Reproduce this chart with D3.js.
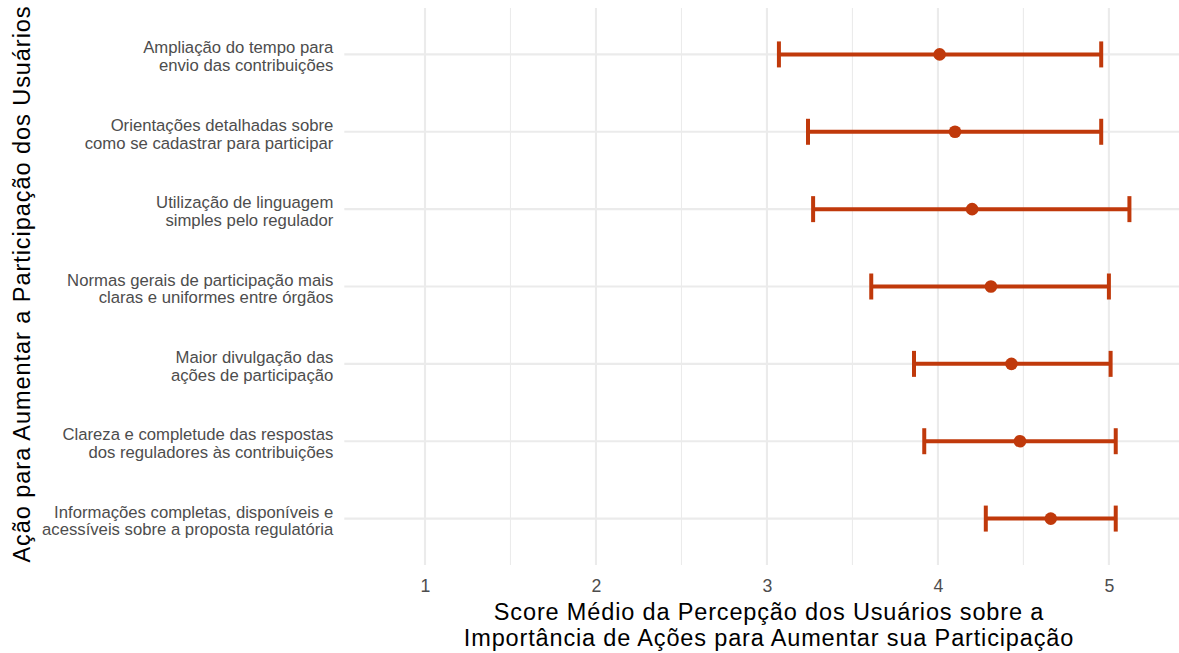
<!DOCTYPE html>
<html>
<head>
<meta charset="utf-8">
<script src="https://cdn.jsdelivr.net/npm/d3@7"></script>
<style>
  html, body { margin: 0; padding: 0; background: #ffffff; }
  svg { display: block; font-family: "Liberation Sans", Arial, sans-serif; }
</style>
</head>
<body>
<svg id="chart" width="1179" height="653"></svg>
<script>
// Actions, listed top to bottom; each label is split over two lines
const actions = [
  ["Ampliação do tempo para", "envio das contribuições"],
  ["Orientações detalhadas sobre", "como se cadastrar para participar"],
  ["Utilização de linguagem", "simples pelo regulador"],
  ["Normas gerais de participação mais", "claras e uniformes entre órgãos"],
  ["Maior divulgação das", "ações de participação"],
  ["Clareza e completude das respostas", "dos reguladores às contribuições"],
  ["Informações completas, disponíveis e", "acessíveis sobre a proposta regulatória"]
];
// Mean score and interval bounds per action
const meanScore = [4.01, 4.10, 4.20, 4.31, 4.43, 4.48, 4.66];
const lowerBound = [3.07, 3.24, 3.27, 3.61, 3.86, 3.92, 4.28];
const upperBound = [4.955, 4.955, 5.12, 5.00, 5.01, 5.04, 5.04];
const xTicks = [1, 2, 3, 4, 5];
const xMinorTicks = [1.5, 2.5, 3.5, 4.5];

const xTitle = ["Score Médio da Percepção dos Usuários sobre a",
                "Importância de Ações para Aumentar sua Participação"];
const yTitle = "Ação para Aumentar a Participação dos Usuários";

const color = "#c0390b";
const gridColor = "#ebebeb";

const svg = d3.select("#chart");
const panel = { left: 344.3, right: 1179, top: 8, bottom: 565 };

const x = d3.scaleLinear().domain([0.528, 5.41]).range([panel.left, panel.right]);
const y = d3.scalePoint()
  .domain(d3.range(actions.length))
  .range([panel.top, panel.bottom])
  .padding(0.6);

const data = actions.map((a, i) => ({
  i, label: a, mean: meanScore[i], lo: lowerBound[i], hi: upperBound[i]
}));

// grid
const grid = svg.append("g");
grid.selectAll("line.minor").data(xMinorTicks).join("line")
  .attr("class", "minor")
  .attr("x1", d => x(d)).attr("x2", d => x(d))
  .attr("y1", panel.top).attr("y2", panel.bottom)
  .attr("stroke", gridColor).attr("stroke-width", 1.1);
grid.selectAll("line.major").data(xTicks).join("line")
  .attr("class", "major")
  .attr("x1", d => x(d)).attr("x2", d => x(d))
  .attr("y1", panel.top).attr("y2", panel.bottom)
  .attr("stroke", gridColor).attr("stroke-width", 2.1);
grid.selectAll("line.row").data(data).join("line")
  .attr("class", "row")
  .attr("x1", panel.left).attr("x2", panel.right)
  .attr("y1", d => y(d.i)).attr("y2", d => y(d.i))
  .attr("stroke", gridColor).attr("stroke-width", 2.1);

// x axis (no domain line, no ticks)
const xAxis = svg.append("g")
  .attr("transform", `translate(0,${panel.bottom})`)
  .call(d3.axisBottom(x).tickValues(xTicks).tickFormat(d3.format("d")).tickSize(0).tickPadding(14));
xAxis.select(".domain").remove();
xAxis.selectAll("text")
  .attr("fill", "#4d4d4d")
  .style("font-size", "17.7px")
  .style("font-family", "'Liberation Sans', Arial, sans-serif");

// y axis labels, two lines each
const yAxis = svg.append("g")
  .attr("transform", `translate(${panel.left},0)`)
  .call(d3.axisLeft(y).tickSize(0).tickPadding(11).tickFormat(""));
yAxis.select(".domain").remove();
yAxis.selectAll(".tick text").each(function(d) {
  const t = d3.select(this)
    .attr("fill", "#4d4d4d")
    .attr("dy", null)
    .style("font-size", "16.7px")
    .style("font-family", "'Liberation Sans', Arial, sans-serif");
  t.selectAll("tspan").data(actions[d]).join("tspan")
    .attr("x", -11)
    .attr("dy", (s, k) => k === 0 ? -1.5 : 17.8)
    .text(s => s);
});

// error bars
const bars = svg.append("g");
const capHalf = 13;
bars.selectAll("line.bar").data(data).join("line")
  .attr("class", "bar")
  .attr("x1", d => x(d.lo)).attr("x2", d => x(d.hi))
  .attr("y1", d => y(d.i)).attr("y2", d => y(d.i))
  .attr("stroke", color).attr("stroke-width", 4);
bars.selectAll("line.capLo").data(data).join("line")
  .attr("class", "capLo")
  .attr("x1", d => x(d.lo)).attr("x2", d => x(d.lo))
  .attr("y1", d => y(d.i) - capHalf).attr("y2", d => y(d.i) + capHalf)
  .attr("stroke", color).attr("stroke-width", 4);
bars.selectAll("line.capHi").data(data).join("line")
  .attr("class", "capHi")
  .attr("x1", d => x(d.hi)).attr("x2", d => x(d.hi))
  .attr("y1", d => y(d.i) - capHalf).attr("y2", d => y(d.i) + capHalf)
  .attr("stroke", color).attr("stroke-width", 4);
bars.selectAll("circle").data(data).join("circle")
  .attr("cx", d => x(d.mean)).attr("cy", d => y(d.i))
  .attr("r", 6.3).attr("fill", color);

// axis titles
const xTitleCenter = 769;
const xt = svg.append("text")
  .attr("x", xTitleCenter)
  .attr("y", 619.5)
  .attr("text-anchor", "middle")
  .attr("fill", "#000")
  .style("font-size", "23.5px")
  .style("letter-spacing", "0.85px");
xt.selectAll("tspan").data(xTitle).join("tspan")
  .attr("x", xTitleCenter)
  .attr("dy", (s, k) => k === 0 ? 0 : 26.5)
  .text(s => s);

svg.append("text")
  .attr("transform", `translate(29.5,284) rotate(-90)`)
  .attr("text-anchor", "middle")
  .attr("fill", "#000")
  .style("font-size", "23.5px")
  .style("letter-spacing", "0.95px")
  .text(yTitle);
</script>
</body>
</html>
